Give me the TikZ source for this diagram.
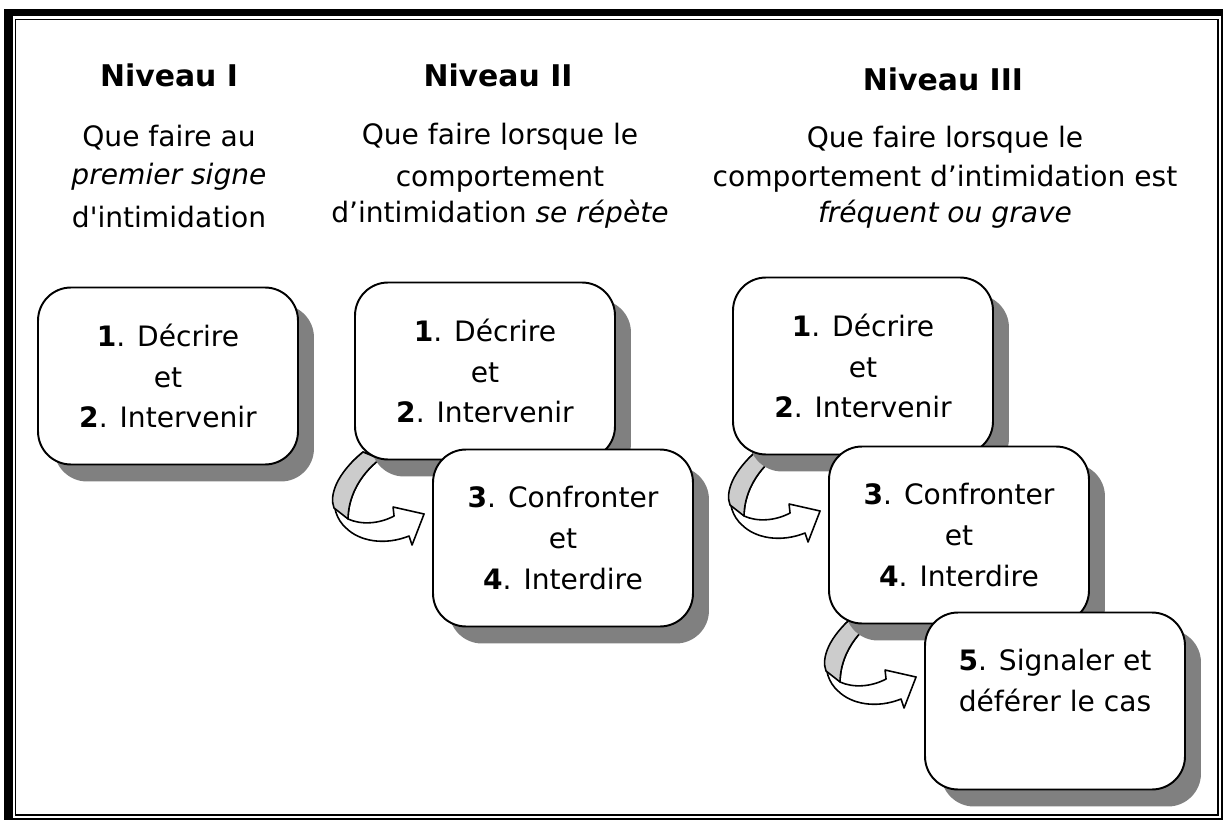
\documentclass[tikz,border=0pt]{standalone}
\usepackage{fontspec}
\setmainfont{DejaVu Sans}
\usetikzlibrary{shadows,backgrounds}

\begin{document}
\begin{tikzpicture}[x=0.02cm,y=-0.02cm,
  titre/.style={font=\fontsize{17}{20}\selectfont\bfseries},
  ligne/.style={anchor=base,inner sep=0pt,font=\fontsize{16}{22}\selectfont},
  etape/.style={draw,line width=1.1pt,rounded corners=0.66cm,fill=white,
    minimum width=5.2cm,minimum height=3.54cm,align=center,
    font=\fontsize{16}{23.3}\selectfont,
    drop shadow={shadow xshift=0.32cm,shadow yshift=-0.34cm,fill=black!50,opacity=1}},
  ruban/.style={draw,line width=0.9pt,line join=round}]
\useasboundingbox (0,0) rectangle (1225,821);
\begin{scope}[on background layer]
\fill[white] (0,0) rectangle (1225,821);
\end{scope}
% cadre
\fill (5,10) rectangle (1222,16.5);
\fill (5,10) rectangle (12.5,819);
\draw[line width=0.7pt] (5,10) rectangle (1222,819);
\draw[line width=0.7pt] (15.5,19.5) rectangle (1218,815);
% titres
\node[titre] (n1) at (169,75) {Niveau I};
\node[titre] (n2) at (498,75) {Niveau II};
\node[titre] (n3) at (943,79) {Niveau III};
\foreach \x/\y/\t [count=\i] in {169/147/{Que faire au},169/185/{\textit{premier signe}},
  169/228/{d\textquotesingle intimidation},500/145/{Que faire lorsque le},500/187/{comportement},
  500/223/{d’intimidation \textit{se répète}},945/148/{Que faire lorsque le},
  945/187/{comportement d’intimidation est},945/222/{\textit{fréquent ou grave}}}
  \node[ligne] (q\i) at (\x,\y) {\t};
% etapes
\node[etape] (b1) at (168,376) {\textbf{1}. Décrire\\et\\\textbf{2}. Intervenir};
\node[etape] (b21) at (485,371) {\textbf{1}. Décrire\\et\\\textbf{2}. Intervenir};
\node[etape] (b22) at (563,538) {\textbf{3}. Confronter\\et\\\textbf{4}. Interdire};
\node[etape] (b31) at (863,366) {\textbf{1}. Décrire\\et\\\textbf{2}. Intervenir};
\node[etape] (b32) at (959,535) {\textbf{3}. Confronter\\et\\\textbf{4}. Interdire};
\node[etape] (b33) at (1055,701) {\textbf{5}. Signaler et\\déférer le cas\\~};
% fleches courbes
\begin{scope}[on background layer]
\foreach \cible in {b22,b32,b33}{
  \begin{scope}[shift={(\cible.west)},shift={(-8,-24)}]
  \filldraw[ruban,fill=white] (-61,-62) .. controls (-94,-35) and (-97,-3) .. (-78,14)
    .. controls (-65,27) and (-40,32) .. (-15,22) -- (-12,31) -- (0,0) -- (-31,-7) -- (-30,2)
    .. controls (-45,10) and (-63,11) .. (-76,5) .. controls (-76,-15) and (-66,-38) .. (-44,-55) -- cycle;
  \filldraw[ruban,fill=black!20] (-61,-62) .. controls (-88,-40) and (-95,-18) .. (-90,-6) -- (-76,5)
    .. controls (-76,-15) and (-66,-38) .. (-44,-55) -- cycle;
  \end{scope}}
\end{scope}
\end{tikzpicture}
\end{document}
